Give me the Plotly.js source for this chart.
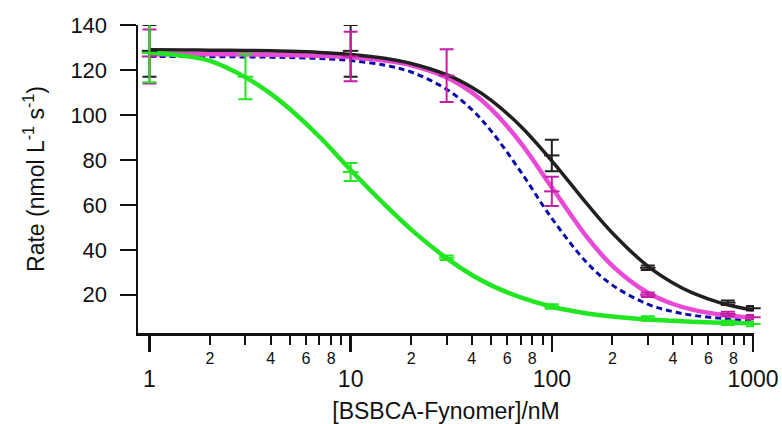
<!DOCTYPE html>
<html>
<head>
<meta charset="utf-8">
<script src="https://cdn.plot.ly/plotly-3.0.1.min.js"></script>
<style>html,body{margin:0;padding:0;background:#fff;}#chart{width:782px;height:424px;}</style>
</head>
<body>
<div id="chart"></div>
<script>
// Fitted curves
const curveX = [1, 1.5, 2, 3, 4, 5, 7, 10, 15, 20, 30, 40, 50, 70, 100, 150, 200, 300, 400, 500, 700, 1000];
const blackCurve   = [129.0, 128.9, 128.8, 128.7, 128.5, 128.3, 127.8, 126.9, 125.1, 122.9, 117.9, 112.3, 106.5, 95.0, 79.6, 60.3, 47.5, 32.7, 25.2, 20.8, 16.2, 13.2];
const magentaCurve = [127.0, 127.0, 127.0, 126.9, 126.8, 126.6, 126.3, 125.7, 124.1, 122.1, 116.7, 110.0, 102.6, 87.6, 67.8, 45.5, 32.9, 20.9, 15.9, 13.4, 11.1, 9.8];
const blueCurve    = [126.0, 126.0, 125.9, 125.8, 125.7, 125.5, 125.1, 124.2, 122.0, 119.1, 111.4, 102.4, 92.8, 74.8, 54.0, 34.1, 24.3, 15.8, 12.5, 10.9, 9.5, 8.8];
const greenCurve   = [127.8, 126.2, 124.0, 116.7, 109.5, 102.5, 90.3, 75.5, 59.5, 49.0, 36.3, 28.8, 24.2, 18.8, 14.7, 11.7, 10.3, 9.0, 8.4, 8.0, 7.6, 7.3];

// Measured points with error bars
const blackX = [1, 10, 100, 300, 750, 1000];
const blackY = [128.5, 128.5, 82, 32, 16.5, 14];
const blackErr = [11.5, 11.5, 7, 1, 1, 1];

const magentaX = [1, 10, 30, 100, 300, 750, 1000];
const magentaY = [126, 126, 117.5, 66, 20, 11.5, 10];
const magentaErr = [12, 11, 11.7, 6.5, 1, 1, 1];

const greenX = [1, 3, 10, 30, 100, 300, 750, 1000];
const greenY = [127.5, 117, 74.6, 36.5, 14.8, 9.5, 7.6, 7];
const greenErr = [13, 10, 4, 1, 1, 1, 1, 1];

const labeledMinorTicks = [2, 4, 6, 8, 20, 40, 60, 80, 200, 400, 600, 800];
const labeledMinorText = ['2', '4', '6', '8', '2', '4', '6', '8', '2', '4', '6', '8'];
const plainMinorTicks = [3, 5, 7, 9, 30, 50, 70, 90, 300, 500, 700, 900];
const majorTicks = [1, 10, 100, 1000];
const majorLabels = ['1', '10', '100', '1000'];
const yTicks = [20, 40, 60, 80, 100, 120, 140];

const BLACK = '#231f20', MAG = '#e84ad6', MAGD = '#c41ea6', BLUE = '#0a0aa8', GREEN = '#22e622';
const FONT = 'Liberation Sans, Arial, Helvetica, sans-serif';

function curve(y, color, width, dash) {
  return {x: curveX, y: y, type: 'scatter', mode: 'lines', xaxis: 'x', yaxis: 'y',
    line: {color: color, width: width, dash: dash || 'solid', shape: 'spline', smoothing: 1},
    cliponaxis: false, hoverinfo: 'skip', showlegend: false};
}
function pts(x, y, e, color) {
  return {x: x, y: y, type: 'scatter', mode: 'markers', xaxis: 'x', yaxis: 'y',
    marker: {symbol: 'line-ew', size: 11, color: color, line: {color: color, width: 2}},
    error_y: {type: 'data', array: e, visible: true, color: color, thickness: 2, width: 7},
    cliponaxis: false, showlegend: false};
}

const data = [
  curve(blueCurve, BLUE, 3, '6px,4px'),
  curve(magentaCurve, MAG, 4.5),
  curve(blackCurve, BLACK, 3.5),
  curve(greenCurve, GREEN, 4.5),
  pts(blackX, blackY, blackErr, BLACK),
  pts(magentaX, magentaY, magentaErr, MAGD),
  pts(greenX, greenY, greenErr, GREEN),
  // invisible trace so xaxis2 is drawn
  {x: [1], y: [null], xaxis: 'x2', yaxis: 'y', type: 'scatter', mode: 'lines', showlegend: false, hoverinfo: 'skip'}
];

const xr = [-0.057, 3.005];
const layout = {
  width: 782, height: 424,
  margin: {l: 138, r: 28, t: 25, b: 91},
  paper_bgcolor: '#fff', plot_bgcolor: '#fff',
  font: {family: FONT, color: '#111'},
  showlegend: false,
  xaxis: {
    type: 'log', range: xr, showgrid: false, zeroline: false,
    showline: true, linecolor: '#111', linewidth: 2.5,
    ticks: 'outside', ticklen: 9, tickwidth: 2, tickcolor: '#111',
    tickmode: 'array', tickvals: labeledMinorTicks, ticktext: labeledMinorText,
    minor: {tickmode: 'array', tickvals: plainMinorTicks, ticks: 'outside', ticklen: 9, tickwidth: 2, tickcolor: '#111', showgrid: false},
    tickfont: {size: 16, family: FONT, color: '#111'}, ticklabelstandoff: 0
  },
  xaxis2: {
    type: 'log', range: xr, overlaying: 'x', anchor: 'y', side: 'bottom',
    showgrid: false, zeroline: false, showline: false,
    ticks: 'outside', ticklen: 18, tickwidth: 2.5, tickcolor: '#111',
    tickmode: 'array', tickvals: majorTicks, ticktext: majorLabels,
    tickfont: {size: 23, family: FONT, color: '#111'}, ticklabelstandoff: 7,
    title: {text: '[BSBCA-Fynomer]/nM', font: {size: 23, family: FONT, color: '#111'}, standoff: 12}
  },
  yaxis: {
    range: [3, 140], showgrid: false, zeroline: false,
    showline: true, linecolor: '#111', linewidth: 2.5,
    ticks: 'outside', ticklen: 16, tickwidth: 2.5, tickcolor: '#111',
    tickmode: 'array', tickvals: yTicks, ticktext: yTicks.map(String),
    tickfont: {size: 22, family: FONT, color: '#111'}, ticklabelstandoff: 8,
    title: {text: 'Rate (nmol L<sup>-1</sup> s<sup>-1</sup>)', font: {size: 23, family: FONT, color: '#111'}, standoff: 20}
  }
};

Plotly.newPlot('chart', data, layout, {displayModeBar: false, staticPlot: true});
</script>
</body>
</html>
